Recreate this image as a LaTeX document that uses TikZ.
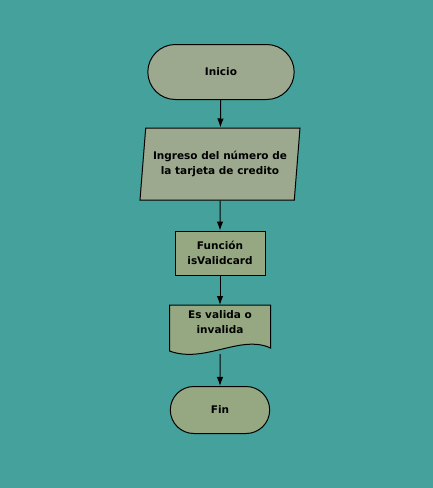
\documentclass[tikz,border=0pt]{standalone}
\usepackage{fontspec}
\setmainfont{DejaVu Sans}
\usetikzlibrary{shapes.geometric,shapes.misc,arrows.meta}
\definecolor{fondo}{HTML}{45A19B}
\definecolor{caja}{HTML}{9CA98E}
\definecolor{cajaB}{HTML}{96A882}
\tikzset{
  base/.style={draw=black, line width=1pt, font=\bfseries\fontsize{10.5}{15}\selectfont, align=center},
  terminal/.style={base, fill=caja, rounded rectangle, minimum height=55pt},
  entrada/.style={base, fill=caja, trapezium, trapezium left angle=80, trapezium right angle=100, minimum height=72pt, trapezium stretches body},
  proceso/.style={base, fill=cajaB, rectangle, minimum width=90pt, minimum height=44pt},
  flecha/.style={-{Latex[length=9pt,width=6.5pt]}, line width=1pt}
}
\begin{document}
\begin{tikzpicture}[x=1pt, y=1pt]
\fill[fondo] (0,0) rectangle (433,-488);
\useasboundingbox (0,0) rectangle (433,-488);

\node[terminal, minimum width=153pt] (inicio) at (221,-72) {Inicio};
\node[entrada, minimum width=160pt] (ingreso) at (220,-164) {Ingreso del número de\\la tarjeta de credito};
\node[proceso] (funcion) at (220,-253) {Función\\isValidcard};
% documento (salida)
\node[base, draw=none, minimum width=100pt, minimum height=40pt, anchor=north] (salida) at (220,-305) {};
\fill[cajaB, draw=black, line width=1pt] (salida.north west) -- (salida.north east) -- ([yshift=-2pt]salida.south east)
  .. controls ([xshift=-30pt,yshift=12pt]salida.south east) and ([xshift=35pt,yshift=-18pt]salida.south west) .. ([yshift=-5pt]salida.south west) -- cycle;
\node[base, draw=none, anchor=north] at ([yshift=-2pt]salida.north) {Es valida o\\invalida};
\node[terminal, fill=cajaB, minimum width=106pt, minimum height=47pt] (fin) at (220,-410) {Fin};

\coordinate (salidab) at ([yshift=-8pt]salida.south);
\draw[flecha] (inicio) -- (ingreso);
\draw[flecha] (ingreso) -- (funcion);
\draw[flecha] (funcion) -- (salida);
\draw[flecha] (salidab) -- (fin);
\end{tikzpicture}
\end{document}
